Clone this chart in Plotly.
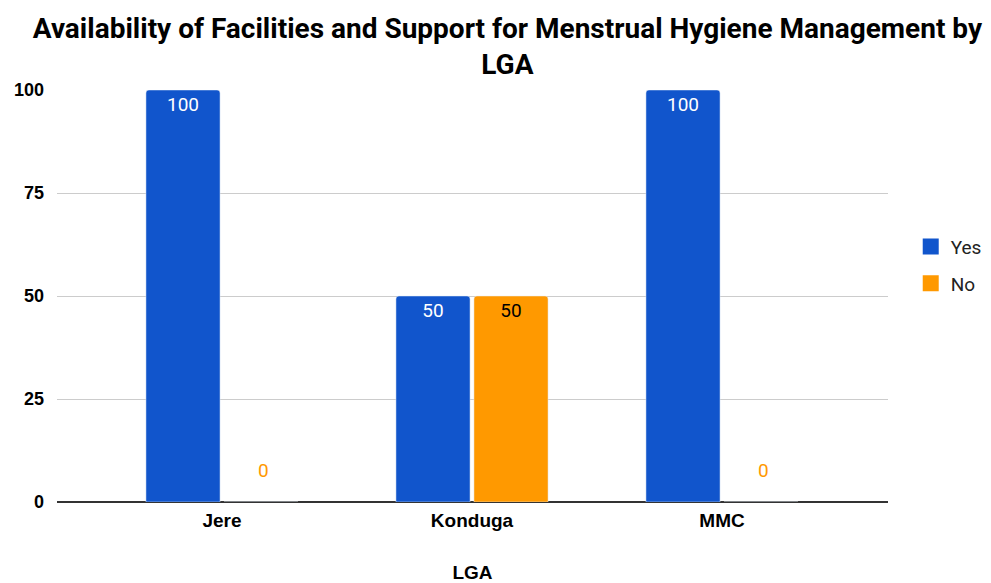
import plotly.graph_objects as go

categories = ["Jere", "Konduga", "MMC"]
yes_values = [100, 50, 100]
no_values = [0, 50, 0]
y_ticks = [0, 25, 50, 75, 100]

YES_COLOR = "#1155cc"
NO_COLOR = "#ff9900"
LABEL_FONT = "Roboto"
AXIS_FONT = "Liberation Sans, Arial"

fig = go.Figure()
fig.add_trace(go.Bar(
    name="Yes", x=categories, y=yes_values, showlegend=False,
    marker=dict(color=YES_COLOR, cornerradius=3),
    text=[str(v) if v != 0 else "" for v in yes_values], textposition="inside", insidetextanchor="end",
    insidetextfont=dict(color="#ffffff", size=19, family=LABEL_FONT),
    textangle=0,
))
fig.add_trace(go.Bar(
    name="No", x=categories, y=no_values, showlegend=False,
    marker=dict(color=NO_COLOR, cornerradius=3),
    text=[str(v) if v != 0 else "" for v in no_values], textposition="inside", insidetextanchor="end",
    insidetextfont=dict(color="#000000", size=19, family=LABEL_FONT),
    textangle=0,
))

# zero-value labels drawn just above the baseline, in the series colour
for cat, v in zip(categories, no_values):
    if v == 0:
        fig.add_annotation(x=cat, y=v, text=str(v), showarrow=False, xshift=41, yshift=32,
                           font=dict(color=NO_COLOR, size=19, family=LABEL_FONT))
for cat, v in zip(categories, yes_values):
    if v == 0:
        fig.add_annotation(x=cat, y=v, text=str(v), showarrow=False, xshift=-39, yshift=32,
                           font=dict(color=YES_COLOR, size=19, family=LABEL_FONT))

# legend entries with larger square swatches
for name, col in [("Yes", YES_COLOR), ("No", NO_COLOR)]:
    fig.add_trace(go.Scatter(
        name=name, x=[None], y=[None], mode="markers", legendgroup=name,
        marker=dict(symbol="square", size=16, color=col),
    ))

fig.update_layout(
    width=991, height=583,
    paper_bgcolor="white", plot_bgcolor="white",
    margin=dict(l=57, r=103, t=90, b=81, autoexpand=False),
    barmode="group", bargap=0.376, bargroupgap=0.05,
    title=dict(
        text="<b>Availability of Facilities and Support for Menstrual Hygiene Management by<br>LGA</b>",
        x=0.512, xanchor="center", xref="container", y=0.935, yanchor="middle", yref="container",
        font=dict(family="Roboto", size=28, color="#000000"),
    ),
    xaxis=dict(
        range=[-0.66, 2.664], showgrid=False, automargin=False,
        tickfont=dict(family=AXIS_FONT, size=19, color="#000000", weight="bold"),
        title=dict(text="<b>LGA</b>", font=dict(family=AXIS_FONT, size=19, color="#000000"), standoff=36),
        ticks="", showline=False, zeroline=False, ticklabelstandoff=5,
    ),
    yaxis=dict(
        range=[0, 100], tickvals=y_ticks, ticktext=[str(t) for t in y_ticks], automargin=False,
        tickfont=dict(family=AXIS_FONT, size=18, color="#000000", weight="bold"),
        gridcolor="#cccccc", gridwidth=1, zeroline=True, zerolinecolor="#333333", zerolinewidth=2,
        showline=False, ticks="", ticklabelstandoff=12,
    ),
    legend=dict(
        x=0.919, xanchor="left", xref="container", y=0.545, yanchor="middle", yref="container",
        font=dict(family="Roboto", size=19, color="#222222"),
        tracegroupgap=9, itemwidth=30,
    ),
)

fig.write_html("out.html", post_script="document.body.style.margin='0';",
               config={"displayModeBar": False})
